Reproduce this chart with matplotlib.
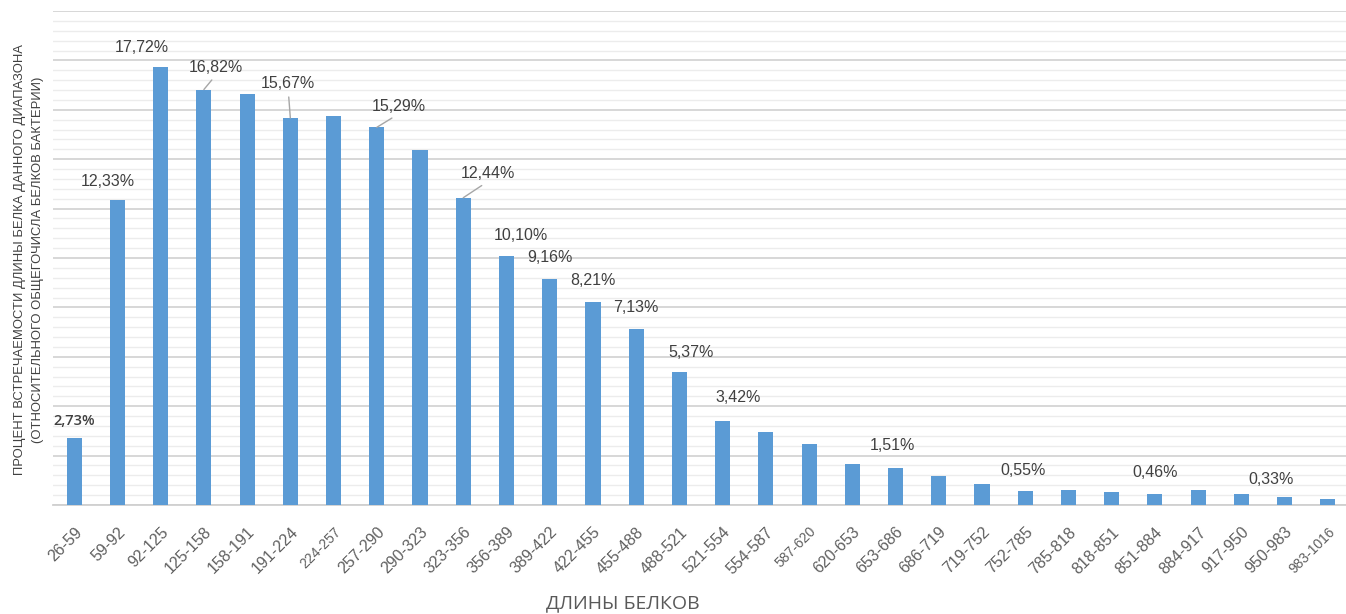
import matplotlib.pyplot as plt
from matplotlib.ticker import MultipleLocator

# protein length ranges and share of proteins in each range, %
ranges = ["26-59", "59-92", "92-125", "125-158", "158-191", "191-224", "224-257",
          "257-290", "290-323", "323-356", "356-389", "389-422", "422-455", "455-488",
          "488-521", "521-554", "554-587", "587-620", "620-653", "653-686", "686-719",
          "719-752", "752-785", "785-818", "818-851", "851-884", "884-917", "917-950",
          "950-983", "983-1016"]
shares = [2.73, 12.33, 17.72, 16.82, 16.62, 15.67, 15.74, 15.29, 14.38, 12.44,
          10.10, 9.16, 8.21, 7.13, 5.37, 3.42, 2.95, 2.48, 1.66, 1.51,
          1.19, 0.83, 0.55, 0.61, 0.54, 0.46, 0.61, 0.46, 0.33, 0.24]

# which bars carry a value label
labelled = ["26-59", "59-92", "92-125", "125-158", "191-224", "257-290", "323-356",
            "356-389", "389-422", "422-455", "455-488", "488-521", "521-554",
            "653-686", "752-785", "851-884", "950-983"]

# label placement (pixels from bar top) and leader lines, just styling
label_offset = {"26-59": (0, 17), "59-92": (-10, 19), "92-125": (-19, 20),
                "125-158": (12, 22), "191-224": (-2, 34), "257-290": (22, 21),
                "323-356": (25, 24), "356-389": (14, 20), "389-422": (0, 21),
                "422-455": (0, 22), "455-488": (0, 21), "488-521": (12, 20),
                "521-554": (16, 23), "653-686": (-3, 22), "752-785": (-2, 21),
                "851-884": (0, 21), "950-983": (-14, 17)}
leaders = {"125-158", "191-224", "257-290", "323-356"}
small_ticks = {"224-257", "587-620", "983-1016"}

fig = plt.figure(figsize=(13.46, 6.14), dpi=100)
ax = fig.add_axes([53 / 1346, 109 / 614, 1 - 53 / 1346, 494 / 614])

x = list(range(len(ranges)))
ax.bar(x, shares, width=0.35, color="#5b9bd5", zorder=3)

ax.set_ylim(0, 20)
ax.set_xlim(-0.49, 29.42)
ax.yaxis.set_major_locator(MultipleLocator(2))
ax.yaxis.set_minor_locator(MultipleLocator(0.4))
ax.grid(axis="y", which="major", color="#d4d4d4", lw=1.3, zorder=0)
ax.grid(axis="y", which="minor", color="#ececec", lw=1.0, zorder=0)
ax.set_yticklabels([])
ax.tick_params(axis="y", which="both", length=0)
ax.tick_params(axis="x", length=0, pad=14)
for side in ["left", "right", "top"]:
    ax.spines[side].set_visible(False)
ax.spines["bottom"].set_color("#d0d0d0")
ax.spines["bottom"].set_linewidth(1.3)

ax.set_xticks(x)
ax.set_xticklabels(ranges, rotation=45, ha="right", rotation_mode="anchor",
                   color="#606060", family="Liberation Sans")
for lab in ax.get_xticklabels():
    lab.set_fontsize(10 if lab.get_text() in small_ticks else 11.5)

for i, name in enumerate(ranges):
    if name not in labelled:
        continue
    text = f"{shares[i]:.2f}%".replace(".", ",")
    dx, dy = label_offset[name]
    kw = {}
    if name in leaders:
        kw["arrowprops"] = dict(arrowstyle="-", color="#a6a6a6", lw=1,
                                shrinkA=2, shrinkB=0, relpos=(0.5, 0))
    bold = name == "26-59"
    ax.annotate(text, xy=(i, shares[i]), xytext=(dx, dy), textcoords="offset pixels",
                ha="center", va="center", color="#404040",
                fontsize=10.5 if bold else 11.5,
                fontweight="semibold" if bold else "normal",
                family="Open Sans" if bold else "Liberation Sans", **kw)

fig.text(29 / 1346, 1 - 260 / 614, "ПРОЦЕНТ ВСТРЕЧАЕМОСТИ ДЛИНЫ БЕЛКА ДАННОГО ДИАПАЗОНА\n"
         "(ОТНОСИТЕЛЬНОГО ОБЩЕГОЧИСЛА БЕЛКОВ БАКТЕРИИ)",
         rotation=90, ha="center", va="center", multialignment="center",
         fontsize=9.4, color="#404040", family="Liberation Sans", linespacing=1.6)
fig.text(623 / 1346, 0.018, "ДЛИНЫ БЕЛКОВ", ha="center", va="center",
         fontsize=14, color="#595959", family="Open Sans")

fig.savefig("out.png", dpi=100)
